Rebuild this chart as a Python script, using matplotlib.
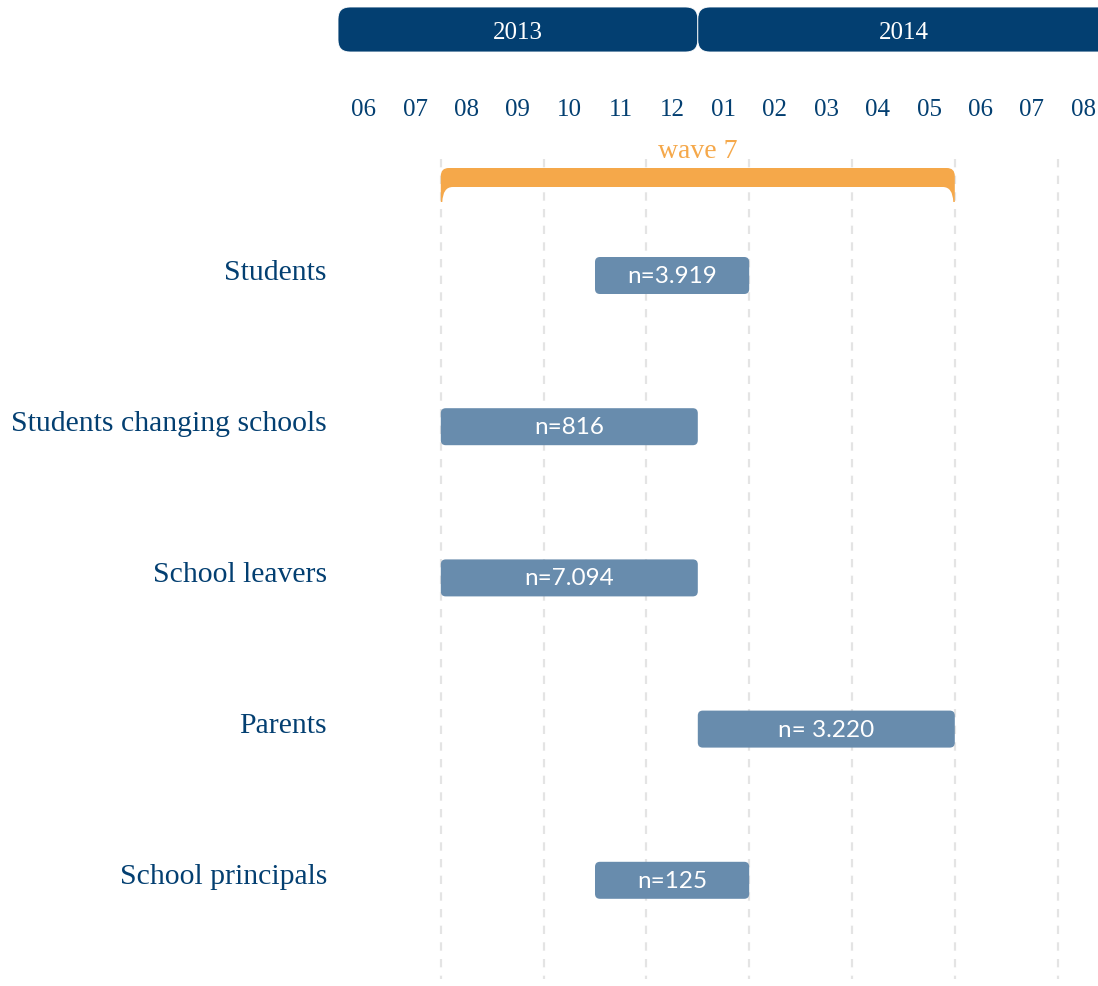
import matplotlib
matplotlib.use("Agg")
import matplotlib.pyplot as plt
from matplotlib.patches import FancyBboxPatch, PathPatch
from matplotlib.path import Path

# ---------------- data ----------------
groups = ["Students", "Students changing schools", "School leavers", "Parents", "School principals"]
# months counted from June 2013 (0 = start of June 2013)
start_month = [5, 2, 2, 7, 5]
end_month = [8, 7, 7, 12, 8]
sample_labels = ["n=3.919", "n=816", "n=7.094", "n= 3.220", "n=125"]
month_labels = ["06", "07", "08", "09", "10", "11", "12", "01", "02", "03", "04", "05", "06", "07", "08"]
years = ["2013", "2014"]
year_start = [0, 7]
year_end = [7, 19]
year_label_x = [3.5, 11]
wave_label = "wave 7"
wave_start, wave_end = 2, 12
grid_months = [2, 4, 6, 8, 10, 12, 14]

# ---------------- style ----------------
NAVY = "#033f71"
BAR = "#688cad"
ORANGE = "#f5a84a"
GRID = "#e4e4e4"
SERIF = "Liberation Serif"
plt.rcParams["lines.scale_dashes"] = False

W, H = 1098, 987
PX_MONTH = 51.4
PX_ROW = 151.2
X0 = 338.0        # pixel of month 0
Y0 = 276.5        # pixel of row 0 centre

fig = plt.figure(figsize=(W / 100, H / 100), dpi=100)
ax = fig.add_axes([0, 0, 1, 1])
ax.set_xlim(-X0 / PX_MONTH, (W - X0) / PX_MONTH)
ax.set_ylim((H - Y0) / PX_ROW, -Y0 / PX_ROW)
ax.axis("off")

def ry(py):  # pixel row -> data y
    return (py - Y0) / PX_ROW

dx = 1 / PX_MONTH  # one pixel in x units
dy = 1 / PX_ROW    # one pixel in y units
aspect = PX_MONTH / PX_ROW

# grid lines
for m in grid_months:
    ax.plot([m, m], [ry(160), ry(980)], color=GRID, lw=1.6,
            linestyle=(0, (6, 6)), zorder=0)

# year bars
for yl, s, e, tx in zip(years, year_start, year_end, year_label_x):
    box = FancyBboxPatch((s, ry(8)), e - s, 45 * dy,
                         boxstyle=f"round,pad=0,rounding_size={12*dx}",
                         mutation_aspect=aspect, fc=NAVY, ec="white", lw=0.6, zorder=2)
    ax.add_patch(box)
    ax.text(tx, ry(33), yl, color="white",
            fontsize=18, family=SERIF, ha="center", va="center", zorder=3)

# month labels
for i, ml in enumerate(month_labels):
    ax.text(i + 0.5, ry(110), ml, color=NAVY, fontsize=18, family=SERIF,
            ha="center", va="center")

# wave bracket
L, R = wave_start, wave_end
yT, yB, yL = ry(169), ry(188), ry(203)
r = 8
verts = [
    (L, yL),
    (L, yT + r * dy), (L, yT), (L + r * dx, yT),
    (R - r * dx, yT),
    (R, yT), (R, yT + r * dy),
    (R, yL),
    (R - 1.5 * dx, yL),
    (R - 2 * dx, yB), (R - 12 * dx, yB),
    (L + 12 * dx, yB),
    (L + 2 * dx, yB), (L + 1.5 * dx, yL),
    (L, yL),
]
codes = [Path.MOVETO,
         Path.LINETO, Path.CURVE3, Path.CURVE3,
         Path.LINETO,
         Path.CURVE3, Path.CURVE3,
         Path.LINETO,
         Path.LINETO,
         Path.CURVE3, Path.CURVE3,
         Path.LINETO,
         Path.CURVE3, Path.CURVE3,
         Path.CLOSEPOLY]
ax.add_patch(PathPatch(Path(verts, codes), fc=ORANGE, ec="none", zorder=2))
ax.text((L + R) / 2, ry(151), wave_label, color=ORANGE, fontsize=20,
        family=SERIF, ha="center", va="center")

# bars
for i, (g, s, e, lab) in enumerate(zip(groups, start_month, end_month, sample_labels)):
    h = 37 * dy
    box = FancyBboxPatch((s, i - h / 2), e - s, h,
                         boxstyle=f"round,pad=0,rounding_size={5*dx}",
                         mutation_aspect=aspect, fc=BAR, ec="none", zorder=2)
    ax.add_patch(box)
    ax.text((s + e) / 2, i, lab, color="white", fontsize=17.5, family="Lato",
            ha="center", va="center", zorder=3)
    ax.text((327 - X0) / PX_MONTH, i - 4 * dy, g, color=NAVY, fontsize=21.4,
            family=SERIF, ha="right", va="center")

fig.savefig("out.png", dpi=100)
